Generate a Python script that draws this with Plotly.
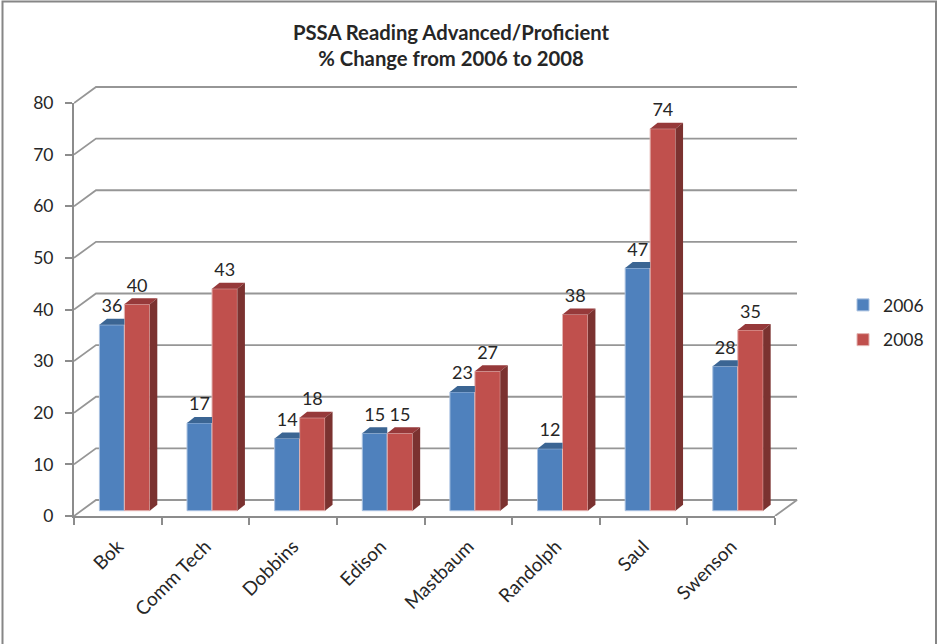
import plotly.graph_objects as go

schools = ["Bok", "Comm Tech", "Dobbins", "Edison", "Mastbaum", "Randolph", "Saul", "Swenson"]
values_2006 = [36, 17, 14, 15, 23, 12, 47, 28]
values_2008 = [40, 43, 18, 15, 27, 38, 74, 35]
y_ticks = [0, 10, 20, 30, 40, 50, 60, 70, 80]

FONT = "Lato, Carlito, Calibri, sans-serif"
TXT = "#262626"
GRID = "#8c8c8c"
WALL = "#969696"
BLUE, BLUE_TOP = "#4F81BD", "#3B6593"
RED, RED_TOP, RED_SIDE = "#C0504D", "#96393A", "#7B3230"

# front plane of the 3-D chart, in px
L, R, T, B = 74, 775, 103, 516
# outer box that also holds the back wall, in px
OUT_R, OUT_T = 800, 80
PW, PH = 937 - L, B - OUT_T          # paper area inside the margins
unit_x = (R - L) / 8
unit_y = (B - T) / 80

wall_dx, wall_dy = 22 / unit_x, 16 / unit_y      # depth of the back wall
bar_dx, bar_dy = 7.5 / unit_x, 6 / unit_y        # depth of each bar
base = 5.3 / unit_y                              # bars stand slightly inside the floor
label_lift = 2 / unit_y
blue_off, blue_w = -0.21, 0.285
red_off, red_w = 0.075, 0.29

fig = go.Figure()

# --- back wall gridlines (lowest subplot) ---
for t in y_ticks:
    fig.add_trace(go.Scatter(
        x=[-0.5, -0.5 + wall_dx, 7.5 + wall_dx] + ([7.5] if t == 0 else []),
        y=[t, t + wall_dy, t + wall_dy] + ([0] if t == 0 else []),
        mode="lines", line=dict(color=WALL, width=1.8),
        xaxis="x", yaxis="y", showlegend=False, hoverinfo="skip"))

# --- front faces ---
fig.add_trace(go.Bar(
    x=schools, y=values_2006, base=base, offset=blue_off, width=blue_w, name="2006",
    legendgroup="a", marker=dict(color=BLUE, line=dict(color="#A9C1E0", width=1)),
    xaxis="x2", yaxis="y2"))
fig.add_trace(go.Bar(
    x=schools, y=values_2008, base=base, offset=red_off, width=red_w, name="2008",
    legendgroup="b", marker=dict(color=RED, line=dict(color="#E3B4B2", width=1)),
    xaxis="x2", yaxis="y2"))


def poly(xs, ys, color):
    fig.add_trace(go.Scatter(
        x=xs, y=ys, mode="lines", fill="toself", fillcolor=color,
        line=dict(color=color, width=0), xaxis="x3", yaxis="y2",
        showlegend=False, hoverinfo="skip"))


# --- top and side faces, derived from the values ---
for i, (a, b) in enumerate(zip(values_2006, values_2008)):
    l, r = i + blue_off, i + blue_off + blue_w
    top = a + base
    poly([l, r, r, l + bar_dx, l], [top, top, top + bar_dy, top + bar_dy, top], BLUE_TOP)
    l, r = i + red_off, i + red_off + red_w
    top = b + base
    poly([l, r, r + bar_dx, l + bar_dx, l], [top, top, top + bar_dy, top + bar_dy, top], RED_TOP)
    poly([r, r + bar_dx, r + bar_dx, r, r],
         [base, base + bar_dy, top + bar_dy, top, base], RED_SIDE)

# --- data labels ---
label_font = dict(family=FONT, size=18, color=TXT)
fig.add_trace(go.Scatter(
    x=[i + blue_off + blue_w / 2 for i in range(8)],
    y=[v + base + bar_dy + label_lift for v in values_2006],
    text=[str(v) for v in values_2006], mode="text", textposition="top center",
    textfont=label_font, xaxis="x3", yaxis="y2", cliponaxis=False, showlegend=False, hoverinfo="skip"))
fig.add_trace(go.Scatter(
    x=[i + red_off + red_w / 2 for i in range(8)],
    y=[v + base + bar_dy + label_lift for v in values_2008],
    text=[str(v) for v in values_2008], mode="text", textposition="top center",
    textfont=label_font, xaxis="x3", yaxis="y2", cliponaxis=False, showlegend=False, hoverinfo="skip"))

fig.update_layout(
    width=937, height=644,
    margin=dict(l=L, r=0, t=OUT_T, b=644 - B, pad=0),
    paper_bgcolor="white", plot_bgcolor="rgba(0,0,0,0)",
    barmode="overlay",
    font=dict(family=FONT, color=TXT),
    title=dict(
        text="<b>PSSA Reading Advanced/Proficient<br>% Change from 2006 to 2008</b>",
        x=451 / 937, xanchor="center", y=1 - 39.5 / 644, yanchor="top",
        font=dict(family=FONT, size=20.3, color=TXT)),
    # hidden axes of the wall
    xaxis=dict(range=[-0.5, 7.5 + (OUT_R - R) / unit_x], visible=False,
               domain=[0, (OUT_R - L) / PW], anchor="y"),
    yaxis=dict(range=[0, 80 + (T - OUT_T) / unit_y], visible=False,
               domain=[0, 1], anchor="x"),
    # visible axes of the front plane
    xaxis2=dict(
        type="category", categoryorder="array", categoryarray=schools,
        range=[-0.5, 7.5], domain=[0, (R - L) / PW], anchor="y2", tickson="boundaries",
        ticks="outside", ticklen=7, tickwidth=2, tickcolor=GRID,
        showline=True, linecolor=GRID, linewidth=2, showgrid=False, zeroline=False,
        tickangle=-45, ticklabelstandoff=10,
        tickfont=dict(family=FONT, size=19, color=TXT)),
    xaxis3=dict(range=[-0.5, 7.5], overlaying="x2", anchor="y2", visible=False),
    yaxis2=dict(
        range=[0, 80], domain=[0, (B - T) / PH], anchor="x2",
        tickvals=y_ticks, ticks="outside", ticklen=7, tickwidth=2,
        tickcolor=GRID, showline=True, linecolor=GRID, linewidth=2, showgrid=False,
        zeroline=False, ticklabelstandoff=8,
        tickfont=dict(family=FONT, size=17.5, color=TXT)),
    legend=dict(
        x=(843 - L) / PW, xanchor="left", y=1 - (287 - OUT_T) / PH, yanchor="top",
        font=dict(family=FONT, size=17.5, color=TXT), tracegroupgap=9,
        bgcolor="rgba(0,0,0,0)"),
    shapes=[dict(
        type="rect", xref="paper", yref="paper",
        x0=(2.5 - L) / PW, x1=(936 - L) / PW, y0=1 - (660 - OUT_T) / PH, y1=1 - (1.5 - OUT_T) / PH,
        line=dict(color="#868686", width=2), layer="below")],
)

fig.write_html("out.html", config=dict(displayModeBar=False),
               post_script="document.body.style.margin='0';")
